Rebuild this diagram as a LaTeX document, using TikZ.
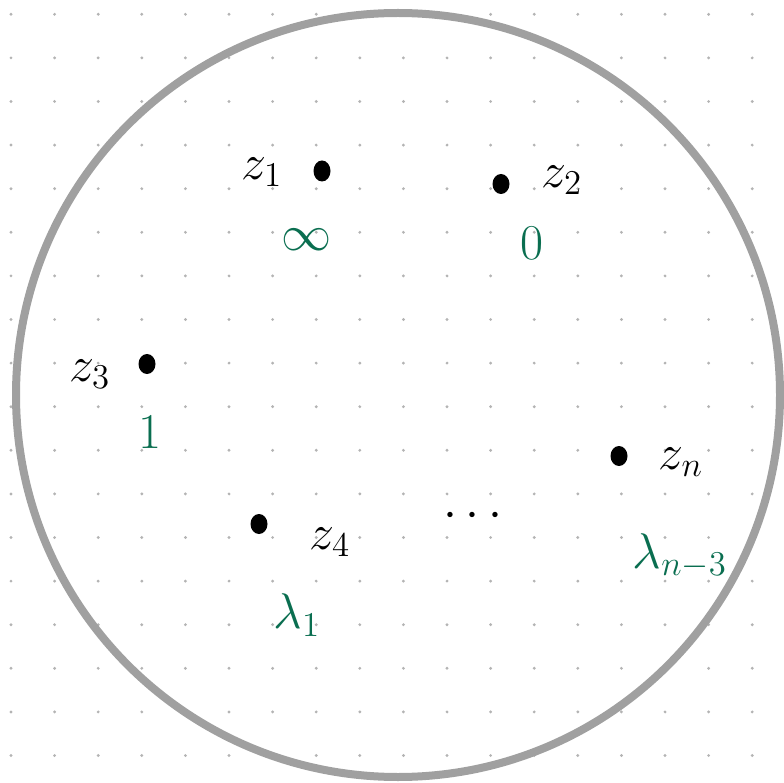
\documentclass[tikz,border=0pt]{standalone}
\usepackage{graphicx}
\definecolor{ringgray}{HTML}{A0A0A0}
\definecolor{griddot}{HTML}{B4B4B4}
\definecolor{inkgreen}{HTML}{0A6E50}
\newcommand{\bigtxt}[1]{\scalebox{2.9}{\LARGE #1}}
\tikzset{
  x=1pt,y=-1pt,
  lbl/.style={text=black,inner sep=0pt},
  glbl/.style={text=inkgreen,inner sep=0pt}
}
\begin{document}
\begin{tikzpicture}
\useasboundingbox (0,0) rectangle (784,783);
\foreach \i in {0,...,17}{
  \foreach \j in {0,...,17}{
    \fill[griddot] (11+43.6*\i,14.3+43.6*\j) circle (1.6);
  }
}
\node[draw=ringgray,line width=8pt,circle,minimum size=764pt,inner sep=0pt] (ring) at (398,395) {};
\fill (322,171) ellipse (8.5 and 10.5) coordinate (p1);
\fill (501,184) ellipse (8.5 and 10) coordinate (p2);
\fill (147,364) ellipse (8.5 and 10) coordinate (p3);
\fill (259,524) ellipse (8.5 and 10) coordinate (p4);
\fill (619,456) ellipse (8.5 and 10) coordinate (pn);
\node[lbl] (z1) at (262,172) {\bigtxt{$z_1$}};
\node[lbl] (z2) at (562,180) {\bigtxt{$z_2$}};
\node[lbl] (z3) at (90,374) {\bigtxt{$z_3$}};
\node[lbl] (z4) at (330,542) {\bigtxt{$z_4$}};
\node[lbl] (zn) at (681,462) {\bigtxt{$z_n$}};
\node[lbl] (dots) at (473,516) {\bigtxt{$\cdots$}};
\node[glbl] (inf) at (307,240) {\bigtxt{$\infty$}};
\node[glbl] (zero) at (532,243) {\bigtxt{$0$}};
\node[glbl] (one) at (150,432) {\bigtxt{$1$}};
\node[glbl] (l1) at (297,615) {\bigtxt{$\lambda_1$}};
\node[glbl] (ln) at (680,556) {\bigtxt{$\lambda_{n-3}$}};
\end{tikzpicture}
\end{document}
